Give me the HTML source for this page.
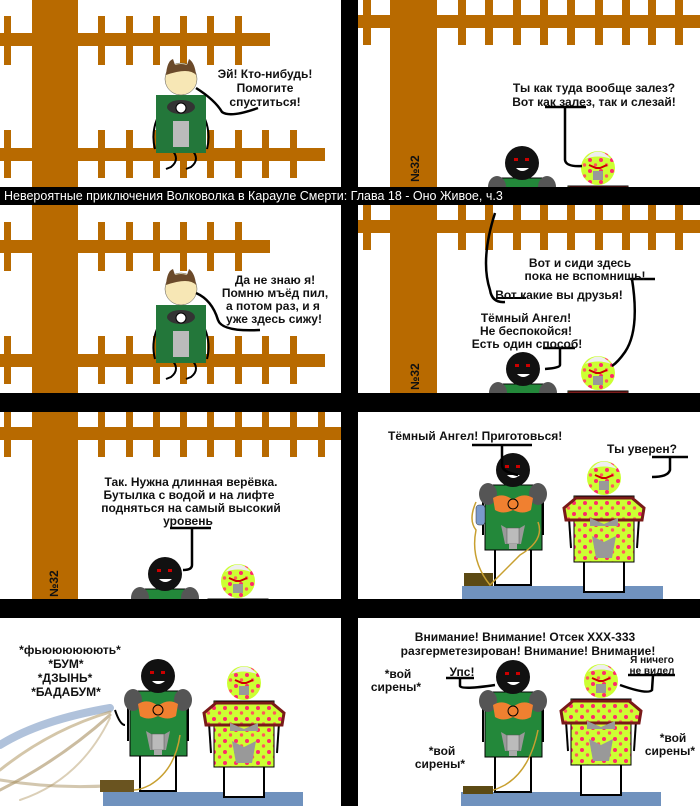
<!DOCTYPE html>
<html><head><meta charset="utf-8"><style>
html,body{margin:0;padding:0;background:#fff}
svg{display:block}
text{font-family:"Liberation Sans",sans-serif;font-weight:bold;fill:#111}
</style></head><body>
<svg width="700" height="806" viewBox="0 0 700 806" xmlns="http://www.w3.org/2000/svg">
<defs>
<clipPath id="cL1"><rect x="0" y="0" width="341" height="187"/></clipPath>
<clipPath id="cR1"><rect x="358" y="0" width="342" height="187"/></clipPath>
<clipPath id="cL2"><rect x="0" y="205" width="341" height="188"/></clipPath>
<clipPath id="cR2"><rect x="358" y="205" width="342" height="188"/></clipPath>
<clipPath id="cL3"><rect x="0" y="412" width="341" height="187"/></clipPath>
<clipPath id="cR3"><rect x="358" y="412" width="342" height="187"/></clipPath>
<clipPath id="cL4"><rect x="0" y="618" width="341" height="188"/></clipPath>
<clipPath id="cR4"><rect x="358" y="618" width="342" height="188"/></clipPath>
<pattern id="dots" width="11" height="11" patternUnits="userSpaceOnUse">
<rect width="11" height="11" fill="#ccff33"/><circle cx="3" cy="3" r="2" fill="#ff2a6a"/><circle cx="8.5" cy="8" r="1.7" fill="#ff5a5a"/>
</pattern>
<g id="da">
<line x1="-30" y1="25" x2="-30" y2="65" stroke="#000" stroke-width="2"/>
<line x1="30" y1="25" x2="30" y2="65" stroke="#000" stroke-width="2"/>
<rect x="-18" y="78" width="36" height="37" fill="#fff" stroke="#000" stroke-width="2"/>
<rect x="-28" y="15" width="57" height="65" fill="#23883a" stroke="#000" stroke-width="1"/>
<ellipse cx="-25" cy="24" rx="9" ry="11" fill="#555"/>
<ellipse cx="25" cy="24" rx="9" ry="11" fill="#555"/>
<path d="M-20 28 Q-10 22 0 30 Q10 22 20 28 L18 40 Q10 45 0 40 Q-10 45 -18 40Z" fill="#f08030"/>
<circle cx="0" cy="34" r="5" fill="#f08030" stroke="#000"/>
<path d="M-12 55 L0 62 L12 55 L8 74 L-8 74Z" fill="#999"/>
<rect x="-6" y="58" width="12" height="16" fill="#bbb" stroke="#555" stroke-width="0.5"/>
<rect x="-4" y="74" width="8" height="5" fill="#aaa"/>
<circle cx="0" cy="0" r="17" fill="#111"/>
<rect x="-8" y="-5" width="4" height="3" fill="#c00"/><rect x="3" y="-5" width="4" height="3" fill="#c00"/>
<path d="M-6 5 Q0 11 7 5Z" fill="#fff"/>
</g>
<g id="pm">
<line x1="-35" y1="40" x2="-33" y2="70" stroke="#000" stroke-width="2"/>
<line x1="35" y1="40" x2="33" y2="70" stroke="#000" stroke-width="2"/>
<rect x="-20" y="82" width="40" height="32" fill="#fff" stroke="#000" stroke-width="2"/>
<rect x="-30" y="18" width="60" height="66" fill="url(#dots)" stroke="#000" stroke-width="1"/>
<path d="M-40 30 L-28 20 L28 20 L40 30 L38 42 L-38 42Z" fill="url(#dots)" stroke="#7a1a1a" stroke-width="3"/>
<path d="M-14 40 L0 46 L14 40 L14 48 L-14 48Z" fill="#999"/>
<path d="M-12 58 L0 64 L12 58 L8 80 L-8 80Z" fill="#999"/>
<circle cx="0" cy="0" r="17" fill="url(#dots)"/>
<path d="M-13 -9 Q0 -24 13 -9 Q0 -14 -13 -9Z" fill="#eee"/>
<path d="M-9 -3 L-2 0 L2 0 L9 -3" stroke="#c00" stroke-width="2" fill="none"/>
<rect x="-5" y="3" width="10" height="9" fill="#999"/>
</g>
<g id="wolf">
<path d="M-24 40 Q-30 55 -26 70 M24 40 Q30 55 26 70" stroke="#000" stroke-width="2" fill="none"/>
<path d="M-10 70 Q0 80 -10 88 L-15 90 M10 70 Q20 80 10 88 L5 90" stroke="#000" stroke-width="2" fill="none"/>
<rect x="-25" y="16" width="50" height="58" fill="#23773a"/>
<rect x="-8" y="42" width="16" height="26" fill="#bbb"/>
<ellipse cx="0" cy="28" rx="14" ry="7" fill="#333"/>
<circle cx="0" cy="29" r="5" fill="#fff" stroke="#000"/>
<circle cx="0" cy="0" r="16" fill="#f7e7b5" stroke="#555" stroke-width="0.5"/>
<path d="M-15 -4 Q-14 -18 -8 -20 L-6 -14 Q0 -16 6 -14 L8 -20 Q14 -16 15 -4 Q8 -12 -15 -4Z" fill="#6b4a2a"/>
</g>
</defs>

<!-- Row1 left -->
<g clip-path="url(#cL1)">
<g fill="#b86a00">
<rect x="32" y="0" width="46" height="187"/>
<rect x="0" y="33" width="270" height="13"/>
<rect x="4" y="16" width="7" height="49"/><rect x="98" y="16" width="7" height="49"/><rect x="126" y="16" width="7" height="49"/><rect x="153" y="16" width="7" height="49"/><rect x="180" y="16" width="7" height="49"/><rect x="207" y="16" width="7" height="49"/><rect x="235" y="16" width="7" height="49"/>
<rect x="0" y="148" width="325" height="13"/>
<rect x="4" y="130" width="7" height="48"/><rect x="98" y="130" width="7" height="48"/><rect x="126" y="130" width="7" height="48"/><rect x="153" y="130" width="7" height="48"/><rect x="180" y="130" width="7" height="48"/><rect x="207" y="130" width="7" height="48"/><rect x="235" y="130" width="7" height="48"/><rect x="262" y="130" width="7" height="48"/><rect x="290" y="130" width="7" height="48"/>
</g>
<use href="#wolf" x="181" y="79"/>
<path d="M196 88 Q215 100 222 112 Q230 118 258 108" stroke="#000" stroke-width="2.5" fill="none"/>
<g font-size="12" text-anchor="middle"><text x="265" y="78">Эй! Кто-нибудь!</text><text x="265" y="92">Помогите</text><text x="265" y="106">спуститься!</text></g>
</g>

<!-- Row1 right -->
<g clip-path="url(#cR1)">
<g fill="#b86a00">
<rect x="390" y="0" width="47" height="187"/>
<rect x="358" y="15" width="342" height="13"/>
<rect x="363" y="0" width="8" height="45"/><rect x="458" y="0" width="8" height="45"/><rect x="485" y="0" width="8" height="45"/><rect x="513" y="0" width="8" height="45"/><rect x="540" y="0" width="8" height="45"/><rect x="567" y="0" width="8" height="45"/><rect x="595" y="0" width="8" height="45"/><rect x="622" y="0" width="8" height="45"/><rect x="648" y="0" width="8" height="45"/><rect x="675" y="0" width="8" height="45"/>
</g>
<text transform="translate(419,182) rotate(-90)" font-size="12">№32</text>
<use href="#da" x="522" y="163"/>
<use href="#pm" x="598" y="168"/>
<path d="M545 107 L586 107 M565 107 L565 160 Q566 167 582 166" stroke="#000" stroke-width="2.5" fill="none"/>
<g font-size="12" text-anchor="middle"><text x="594" y="92">Ты как туда вообще залез?</text><text x="594" y="106">Вот как залез, так и слезай!</text></g>
</g>

<!-- Row2 left -->
<g clip-path="url(#cL2)">
<g fill="#b86a00">
<rect x="32" y="205" width="46" height="188"/>
<rect x="0" y="240" width="270" height="13"/>
<rect x="4" y="222" width="7" height="49"/><rect x="98" y="222" width="7" height="49"/><rect x="126" y="222" width="7" height="49"/><rect x="153" y="222" width="7" height="49"/><rect x="180" y="222" width="7" height="49"/><rect x="207" y="222" width="7" height="49"/><rect x="235" y="222" width="7" height="49"/>
<rect x="0" y="354" width="325" height="13"/>
<rect x="4" y="336" width="7" height="48"/><rect x="98" y="336" width="7" height="48"/><rect x="126" y="336" width="7" height="48"/><rect x="153" y="336" width="7" height="48"/><rect x="180" y="336" width="7" height="48"/><rect x="207" y="336" width="7" height="48"/><rect x="235" y="336" width="7" height="48"/><rect x="262" y="336" width="7" height="48"/><rect x="290" y="336" width="7" height="48"/>
</g>
<use href="#wolf" x="181" y="289"/>
<path d="M196 293 Q212 300 218 320 Q222 332 260 330" stroke="#000" stroke-width="2.5" fill="none"/>
<g font-size="12" text-anchor="middle"><text x="275" y="284">Да не знаю я!</text><text x="275" y="297">Помню мъёд пил,</text><text x="273" y="310">а потом раз, и я</text><text x="274" y="323">уже здесь сижу!</text></g>
</g>

<!-- Row2 right -->
<g clip-path="url(#cR2)">
<g fill="#b86a00">
<rect x="390" y="205" width="47" height="188"/>
<rect x="358" y="220" width="342" height="13"/>
<rect x="363" y="205" width="8" height="45"/><rect x="458" y="205" width="8" height="45"/><rect x="485" y="205" width="8" height="45"/><rect x="513" y="205" width="8" height="45"/><rect x="540" y="205" width="8" height="45"/><rect x="567" y="205" width="8" height="45"/><rect x="595" y="205" width="8" height="45"/><rect x="622" y="205" width="8" height="45"/><rect x="648" y="205" width="8" height="45"/><rect x="675" y="205" width="8" height="45"/>
</g>
<text transform="translate(419,390) rotate(-90)" font-size="12">№32</text>
<use href="#da" x="523" y="369"/>
<use href="#pm" x="598" y="373"/>
<path d="M496 298 L526 298" stroke="#000" stroke-width="2" fill="none"/>
<path d="M495 213 Q480 260 490 290 Q492 303 505 302" stroke="#000" stroke-width="2.5" fill="none"/>
<path d="M630 279 L655 279 M632 279 Q640 330 625 352 Q618 362 612 366" stroke="#000" stroke-width="2.5" fill="none"/>
<path d="M543 348 L575 348 M560 348 L560 365 Q560 368 545 369" stroke="#000" stroke-width="2.5" fill="none"/>
<g font-size="12" text-anchor="middle">
<text x="580" y="267">Вот и сиди здесь</text><text x="585" y="280">пока не вспомнишь!</text>
<text x="559" y="299">Вот какие вы друзья!</text>
<text x="526" y="322">Тёмный Ангел!</text><text x="526" y="335">Не беспокойся!</text><text x="527" y="348">Есть один способ!</text>
</g>
</g>

<!-- Row3 left -->
<g clip-path="url(#cL3)">
<g fill="#b86a00">
<rect x="32" y="412" width="46" height="187"/>
<rect x="0" y="427" width="341" height="13"/>
<rect x="4" y="412" width="7" height="45"/><rect x="98" y="412" width="7" height="45"/><rect x="126" y="412" width="7" height="45"/><rect x="153" y="412" width="7" height="45"/><rect x="180" y="412" width="7" height="45"/><rect x="207" y="412" width="7" height="45"/><rect x="235" y="412" width="7" height="45"/><rect x="262" y="412" width="7" height="45"/><rect x="290" y="412" width="7" height="45"/><rect x="318" y="412" width="7" height="45"/>
</g>
<text transform="translate(58,597) rotate(-90)" font-size="12">№32</text>
<use href="#da" x="165" y="574"/>
<use href="#pm" x="238" y="581"/>
<path d="M170 528 L211 528 M192 528 L192 565 Q192 570 183 570" stroke="#000" stroke-width="2.5" fill="none"/>
<g font-size="12" text-anchor="middle"><text x="191" y="486">Так. Нужна длинная верёвка.</text><text x="189" y="499">Бутылка с водой и на лифте</text><text x="191" y="512">подняться на самый высокий</text><text x="188" y="525">уровень</text></g>
</g>

<!-- Row3 right -->
<g clip-path="url(#cR3)">
<rect x="462" y="586" width="201" height="13" fill="#7092be"/>
<rect x="464" y="573" width="29" height="13" fill="#5c4a14"/>
<use href="#da" x="513" y="470"/>
<use href="#pm" x="604" y="478"/>
<path d="M476 502 Q468 520 476 530 Q470 560 490 585 Q505 570 520 555 Q545 540 538 522" stroke="#c8a030" stroke-width="1.5" fill="none"/>
<rect x="476" y="505" width="9" height="20" rx="3" fill="#7a9acc" stroke="#333" stroke-width="0.5"/>
<path d="M472 445 L532 445 M502 445 L502 465 Q502 472 518 475" stroke="#000" stroke-width="2.5" fill="none"/>
<path d="M652 457 L688 457 M670 457 L670 470 Q668 477 652 477" stroke="#000" stroke-width="2.5" fill="none"/>
<g font-size="12"><text x="388" y="440">Тёмный Ангел! Приготовься!</text><text x="607" y="453">Ты уверен?</text></g>
</g>

<!-- Row4 left -->
<g clip-path="url(#cL4)">
<g fill="none" stroke-linecap="round">
<path d="M0 745 Q40 720 110 708" stroke="#8ea8cc" stroke-width="8" opacity="0.7"/>
<path d="M0 770 Q50 730 110 712" stroke="#b8a070" stroke-width="3" opacity="0.6"/>
<path d="M0 790 Q60 760 110 715" stroke="#a89060" stroke-width="3" opacity="0.6"/>
<path d="M20 800 Q80 780 110 718" stroke="#b8a070" stroke-width="2" opacity="0.5"/>
<path d="M0 780 Q60 790 120 785" stroke="#a89060" stroke-width="3" opacity="0.5"/>
</g>
<rect x="103" y="792" width="200" height="14" fill="#7092be"/>
<rect x="100" y="780" width="34" height="12" fill="#6a5420"/>
<use href="#da" x="158" y="676"/>
<use href="#pm" x="244" y="683"/>
<path d="M115 710 Q120 725 125 725" stroke="#000" stroke-width="2" fill="none"/>
<path d="M180 735 Q175 770 150 785 Q140 790 134 790" stroke="#c8a030" stroke-width="1.5" fill="none"/>
<g font-size="12" text-anchor="middle"><text x="70" y="654">*фьюююююють*</text><text x="66" y="668">*БУМ*</text><text x="65" y="682">*ДЗЫНЬ*</text><text x="66" y="696">*БАДАБУМ*</text></g>
</g>

<!-- Row4 right -->
<g clip-path="url(#cR4)">
<rect x="461" y="792" width="200" height="14" fill="#7092be"/>
<rect x="463" y="786" width="30" height="8" fill="#5c4a14"/>
<use href="#da" x="513" y="677"/>
<use href="#pm" x="601" y="681"/>
<path d="M538 730 Q530 770 505 785 Q495 790 493 790" stroke="#c8a030" stroke-width="1.5" fill="none"/>
<path d="M446 678 L474 678 M460 678 L460 686 Q462 690 495 685" stroke="#000" stroke-width="2.5" fill="none"/>
<path d="M628 675 L675 675 M653 675 L652 690 Q648 695 620 685" stroke="#000" stroke-width="2.5" fill="none"/>
<g font-size="12" text-anchor="middle">
<text x="525" y="641">Внимание! Внимание! Отсек ХХХ-333</text><text x="528" y="655">разгерметезирован! Внимание! Внимание!</text>
<text x="398" y="678">*вой</text><text x="396" y="691">сирены*</text>
<text x="462" y="676">Упс!</text>
<text x="442" y="755">*вой</text><text x="440" y="768">сирены*</text>
<text x="673" y="742">*вой</text><text x="670" y="755">сирены*</text>
</g>
<g font-size="10" text-anchor="middle"><text x="652" y="663">Я ничего</text><text x="652" y="674">не видел</text></g>
</g>

<!-- black grid -->
<rect x="341" y="0" width="17" height="806" fill="#000"/>
<rect x="0" y="187" width="700" height="18" fill="#000"/>
<rect x="0" y="393" width="700" height="19" fill="#000"/>
<rect x="0" y="599" width="700" height="19" fill="#000"/>
<text x="4" y="200" font-size="12.5" style="font-weight:normal;fill:#fff">Невероятные приключения Волковолка в Карауле Смерти: Глава 18 - Оно Живое, ч.3</text>
</svg>
</body></html>
